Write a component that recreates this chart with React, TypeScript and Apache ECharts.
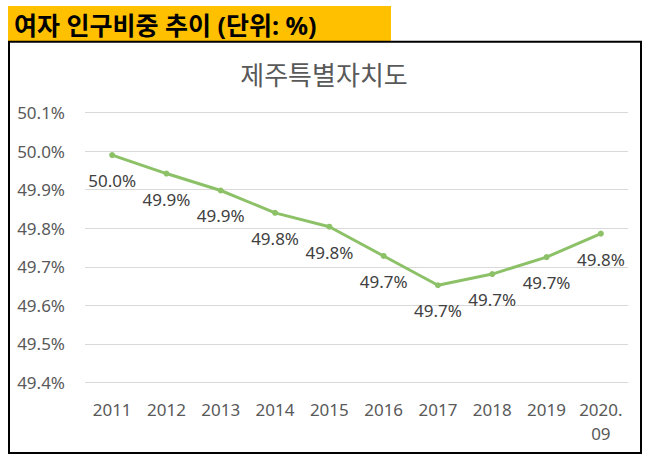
import { useRef, useEffect } from 'react';
import * as echarts from 'echarts';

const years = ['2011', '2012', '2013', '2014', '2015', '2016', '2017', '2018', '2019', '2020.\n09'];
const femaleShare = [49.99, 49.942, 49.898, 49.84, 49.804, 49.728, 49.652, 49.681, 49.725, 49.786];
const yMin = 49.4;
const yMax = 50.1;
const yStep = 0.1;

const headerText = '여자 인구비중 추이 (단위: %)';
const chartTitle = '제주특별자치도';

const FONT = "'Noto Sans', 'Noto Sans CJK KR', sans-serif";

export default function App() {
  const chartDiv = useRef<HTMLDivElement>(null);

  useEffect(() => {
    if (!chartDiv.current) return;
    const chart = echarts.init(chartDiv.current, null, { renderer: 'svg' });

    chart.setOption({
      animation: false,
      backgroundColor: '#ffffff',
      textStyle: { fontFamily: FONT },
      graphic: [
        {
          type: 'rect',
          shape: { x: 8, y: 6, width: 383, height: 35 },
          style: { fill: '#FFC000' },
          z: 0,
        },
        {
          type: 'rect',
          shape: { x: 9, y: 41.7, width: 632, height: 411.3 },
          style: { fill: 'none', stroke: '#000000', lineWidth: 2 },
          z: 1,
        },
        {
          type: 'text',
          x: 14,
          y: 24.5,
          style: {
            text: headerText,
            fill: '#000000',
            font: `bold 25px ${FONT}`,
            verticalAlign: 'middle',
          },
          z: 2,
        },
      ],
      title: {
        text: chartTitle,
        left: 'center',
        top: 57,
        textStyle: {
          color: '#595959',
          fontSize: 26,
          fontWeight: 'normal',
          fontFamily: FONT,
        },
      },
      grid: {
        left: 85,
        right: 20,
        top: 112.7,
        bottom: 81.7,
        containLabel: false,
      },
      xAxis: {
        type: 'category',
        data: years,
        boundaryGap: true,
        axisLine: { show: false },
        axisTick: { show: false },
        axisLabel: {
          interval: 0,
          color: '#595959',
          fontSize: 17,
          margin: 15,
          lineHeight: 24,
          fontFamily: FONT,
        },
      },
      yAxis: {
        type: 'value',
        min: yMin,
        max: yMax,
        interval: yStep,
        axisLine: { show: false },
        axisTick: { show: false },
        splitLine: { lineStyle: { color: '#d9d9d9', width: 1 } },
        axisLabel: {
          color: '#595959',
          fontSize: 17,
          margin: 20,
          fontFamily: FONT,
          formatter: (v: number) => v.toFixed(1) + '%',
        },
      },
      series: [
        {
          type: 'line',
          data: femaleShare,
          symbol: 'circle',
          symbolSize: 6,
          lineStyle: { color: '#8CC168', width: 3 },
          itemStyle: { color: '#8CC168' },
          label: {
            show: true,
            position: 'bottom',
            distance: 14,
            color: '#404040',
            fontSize: 17,
            fontFamily: FONT,
            formatter: (p: any) => p.value.toFixed(1) + '%',
          },
        },
      ],
    });

    return () => chart.dispose();
  }, []);

  return (
    <div
      ref={chartDiv}
      style={{ position: 'absolute', left: 0, top: 0, width: 648, height: 464 }}
    />
  );
}
